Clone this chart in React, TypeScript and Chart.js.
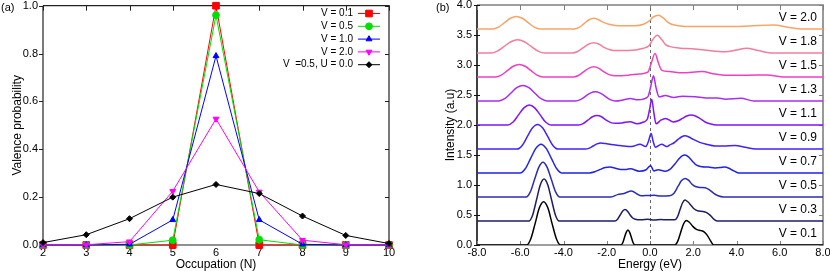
import React, { useEffect, useRef } from 'react';
import { Chart, registerables } from 'chart.js';
import { drawPoint } from 'chart.js/helpers';

Chart.register(...registerables);

const FONT = "'Liberation Sans', Arial, Helvetica, sans-serif";

// ---------- Panel (a) data ----------
const OCCUPATION = [2, 3, 4, 5, 6, 7, 8, 9, 10];
const P_V01 = [0, 0, 0, 0, 1.0, 0, 0, 0, 0];
const P_V05 = [0, 0, 0, 0.02, 0.96, 0.022, 0, 0, 0];
const P_V10 = [0, 0, 0.003, 0.105, 0.79, 0.105, 0.003, 0, 0];
const P_V20 = [0, 0.001, 0.014, 0.225, 0.527, 0.222, 0.02, 0.001, 0];
const P_U00 = [0.01, 0.043, 0.11, 0.2, 0.253, 0.215, 0.121, 0.04, 0.006];
const A_LABELS = ['V = 0.1', 'V = 0.5', 'V = 1.0', 'V = 2.0', 'V  =0.5, U = 0.0'];
const A_SERIES = [P_V01, P_V05, P_V10, P_V20, P_U00];
const A_COLORS = ['#ff0000', '#00e000', '#0000ff', '#ff00ff', '#000000'];
const A_STYLES = ['rect', 'circle', 'triangle', 'triangle', 'rectRot'];
const A_RADII = [4.7, 3.4, 3.4, 3.4, 3];
const A_ROT = [0, 0, 0, 180, 0];

// ---------- Panel (b) data: [energy (eV), intensity above baseline] ----------
type Pt = [number, number];
const B_LABELS = ['V = 0.1', 'V = 0.3', 'V = 0.5', 'V = 0.7', 'V = 0.9', 'V = 1.1', 'V = 1.3', 'V = 1.5', 'V = 1.8', 'V = 2.0'];
const B_OFFSETS = [0, 0.4, 0.8, 1.2, 1.6, 2.0, 2.4, 2.8, 3.2, 3.6];
const B_COLORS = ['#000000', '#1e1e66', '#2c2cb4', '#2222ea', '#4420ff', '#7c16ff', '#a82ef0', '#f040c0', '#f47c9c', '#f8a468'];

const S_V01: Pt[] = [[-8, 0], [-5.7, 0], [-5.51, 0.105], [-5.31, 0.36], [-5.12, 0.615], [-4.92, 0.72], [-4.72, 0.615], [-4.53, 0.36], [-4.33, 0.105], [-4.14, 0],
  [-1.34, 0], [-1.26, 0.037], [-1.18, 0.125], [-1.1, 0.21], [-1.02, 0.25], [-0.94, 0.21], [-0.86, 0.125], [-0.78, 0.037], [-0.7, 0],
  [1.15, 0], [1.28, 0.06], [1.41, 0.2], [1.55, 0.35], [1.68, 0.41], [1.82, 0.38], [1.98, 0.31], [2.15, 0.26], [2.35, 0.24], [2.5, 0.22], [2.65, 0.16], [2.8, 0.07], [2.95, 0], [8, 0]];
const S_V03: Pt[] = [[-8, 0], [-5.6, 0], [-5.425, 0.102], [-5.25, 0.35], [-5.075, 0.6], [-4.9, 0.7], [-4.725, 0.6], [-4.55, 0.35], [-4.375, 0.102], [-4.2, 0],
  [-1.62, 0], [-1.5, 0.03], [-1.38, 0.1], [-1.26, 0.165], [-1.15, 0.19], [-1.03, 0.16], [-0.92, 0.1], [-0.8, 0.05], [-0.68, 0.03],
  [-0.4, 0.02], [-0.1, 0.03], [0.2, 0.015], [0.5, 0.025], [0.8, 0.02], [1.15, 0.02], [1.27, 0.07], [1.39, 0.19], [1.5, 0.3], [1.62, 0.35], [1.75, 0.32], [1.9, 0.26], [2.05, 0.2], [2.2, 0.17], [2.45, 0.16], [2.62, 0.14], [2.8, 0.09], [2.95, 0.03], [3.1, 0], [8, 0]];
const S_V05: Pt[] = [[-8, 0], [-5.73, 0], [-5.535, 0.085], [-5.34, 0.29], [-5.145, 0.495], [-4.95, 0.58], [-4.755, 0.495], [-4.56, 0.29], [-4.365, 0.085], [-4.17, 0],
  [-1.8, 0], [-1.5, 0.04], [-1.2, 0.06], [-0.85, 0.1], [-0.6, 0.05], [-0.4, 0.02], [-0.1, 0.025], [0.2, 0.03], [0.5, 0.015], [0.9, 0.02],
  [1.1, 0.06], [1.3, 0.18], [1.45, 0.27], [1.62, 0.31], [1.78, 0.28], [1.95, 0.21], [2.1, 0.175], [2.3, 0.16], [2.55, 0.155], [2.75, 0.12], [2.95, 0.06], [3.15, 0.02], [3.4, 0], [8, 0]];
const S_V07: Pt[] = [[-8, 0], [-6.01, 0], [-5.77, 0.07], [-5.525, 0.24], [-5.28, 0.41], [-5.04, 0.48], [-4.8, 0.41], [-4.555, 0.24], [-4.31, 0.07], [-4.07, 0],
  [-2.8, 0], [-2.55, 0.02], [-2.3, 0.06], [-2.07, 0.09], [-1.85, 0.1], [-1.6, 0.08], [-1.35, 0.06], [-1.1, 0.06], [-0.9, 0.07], [-0.5, 0.03], [-0.2, 0.05], [0.03, 0.12], [0.18, 0.035], [0.38, 0.055], [0.7, 0.03],
  [0.95, 0.07], [1.15, 0.15], [1.35, 0.24], [1.5, 0.29], [1.62, 0.3], [1.78, 0.27], [1.95, 0.2], [2.15, 0.13], [2.4, 0.105], [2.7, 0.1], [3.0, 0.085], [3.25, 0.09], [3.45, 0.1], [3.65, 0.08], [3.85, 0.04], [4.1, 0], [8, 0]];
const S_V09: Pt[] = [[-8, 0], [-6.15, 0], [-5.91, 0.06], [-5.675, 0.205], [-5.44, 0.35], [-5.2, 0.41], [-4.96, 0.35], [-4.725, 0.205], [-4.49, 0.06], [-4.25, 0],
  [-3.0, 0], [-2.8, 0.015], [-2.63, 0.05], [-2.45, 0.085], [-2.27, 0.1], [-2.05, 0.09], [-1.8, 0.075], [-1.4, 0.06], [-0.85, 0.04], [-0.46, 0.08], [-0.2, 0.04], [-0.07, 0.13], [0.05, 0.26], [0.15, 0.12], [0.25, 0.03], [0.54, 0.08], [0.77, 0.04], [0.92, 0.07],
  [1.1, 0.1], [1.3, 0.16], [1.45, 0.2], [1.62, 0.22], [1.8, 0.2], [2.0, 0.16], [2.3, 0.11], [2.6, 0.08], [3.0, 0.05], [3.4, 0.05], [3.93, 0.06], [4.4, 0.03], [4.9, 0], [8, 0]];
const S_V11: Pt[] = [[-8, 0], [-6.58, 0], [-6.33, 0.049], [-6.08, 0.168], [-5.83, 0.286], [-5.58, 0.335], [-5.33, 0.286], [-5.08, 0.168], [-4.83, 0.049], [-4.58, 0],
  [-3.3, 0], [-3.09, 0.023], [-2.875, 0.08], [-2.66, 0.137], [-2.45, 0.16], [-2.24, 0.137], [-2.025, 0.08], [-1.81, 0.04], [-1.6, 0.03], [-1.3, 0.035], [-0.92, 0.055], [-0.6, 0.02], [-0.3, 0.05], [-0.12, 0.1], [-0.02, 0.26], [0.08, 0.43], [0.18, 0.2], [0.28, 0.02], [0.5, 0.08], [0.72, 0.11],
  [1.08, 0.05], [1.3, 0.07], [1.5, 0.11], [1.7, 0.15], [1.9, 0.165], [2.1, 0.15], [2.3, 0.11], [2.55, 0.05], [2.77, 0.02], [3.1, 0], [8, 0]];
const S_V13: Pt[] = [[-8, 0], [-7.0, 0], [-6.72, 0.038], [-6.44, 0.13], [-6.16, 0.222], [-5.88, 0.26], [-5.6, 0.222], [-5.32, 0.13], [-5.04, 0.038], [-4.76, 0],
  [-3.45, 0], [-3.22, 0.023], [-2.99, 0.078], [-2.76, 0.132], [-2.53, 0.155], [-2.3, 0.132], [-2.07, 0.078], [-1.84, 0.023], [-1.61, 0], [-1.2, 0.02], [-0.92, 0.04], [-0.55, 0.02], [-0.1, 0.07], [0.04, 0.25], [0.16, 0.42], [0.28, 0.22], [0.42, 0.07], [0.7, 0.09],
  [1.1, 0.06], [1.5, 0.08], [2.1, 0.07], [2.6, 0.05], [3.1, 0.05], [3.5, 0.03], [4.2, 0.045], [4.8, 0], [8, 0]];
const S_V15: Pt[] = [[-8, 0], [-7.15, 0], [-6.875, 0.031], [-6.6, 0.105], [-6.325, 0.179], [-6.05, 0.21], [-5.775, 0.179], [-5.5, 0.105], [-5.225, 0.031], [-4.95, 0],
  [-3.55, 0], [-3.31, 0.025], [-3.075, 0.085], [-2.84, 0.145], [-2.6, 0.17], [-2.36, 0.145], [-2.125, 0.085], [-1.89, 0.04], [-1.6, 0.02], [-1.0, 0.03], [-0.5, 0.05], [-0.1, 0.08], [0.05, 0.22], [0.23, 0.39], [0.4, 0.22], [0.55, 0.11], [0.9, 0.09],
  [1.5, 0.07], [2.4, 0.09], [3.0, 0.05], [3.5, 0.03], [4.5, 0.03], [5.4, 0.035], [6.2, 0], [8, 0]];
const S_V18: Pt[] = [[-8, 0], [-7.37, 0], [-7.06, 0.032], [-6.745, 0.11], [-6.43, 0.188], [-6.12, 0.22], [-5.81, 0.188], [-5.495, 0.11], [-5.18, 0.032], [-4.87, 0],
  [-3.6, 0], [-3.35, 0.025], [-3.1, 0.085], [-2.85, 0.145], [-2.6, 0.17], [-2.35, 0.145], [-2.1, 0.09], [-1.85, 0.055], [-1.6, 0.04], [-1.0, 0.04], [-0.3, 0.08], [-0.05, 0.12], [0.12, 0.22], [0.34, 0.295], [0.55, 0.22], [0.72, 0.14], [0.9, 0.11],
  [1.4, 0.08], [1.93, 0.07], [2.5, 0.05], [3.47, 0.02], [4.0, 0.05], [4.47, 0.08], [5.0, 0.04], [5.7, 0], [8, 0]];
const S_V20: Pt[] = [[-8, 0], [-7.28, 0], [-7.005, 0.031], [-6.73, 0.105], [-6.455, 0.179], [-6.18, 0.21], [-5.905, 0.179], [-5.63, 0.105], [-5.355, 0.031], [-5.08, 0],
  [-3.5, 0], [-3.275, 0.026], [-3.05, 0.09], [-2.825, 0.154], [-2.6, 0.18], [-2.375, 0.154], [-2.15, 0.11], [-1.9, 0.08], [-1.6, 0.06], [-0.7, 0.055], [-0.3, 0.08], [-0.05, 0.13], [0.15, 0.2], [0.39, 0.23], [0.6, 0.19], [0.8, 0.12], [1.0, 0.08],
  [1.9, 0.04], [3.5, 0.04], [4.6, 0.05], [5.7, 0.065], [6.5, 0.02], [7.1, 0], [8, 0]];
const B_SERIES = [S_V01, S_V03, S_V05, S_V07, S_V09, S_V11, S_V13, S_V15, S_V18, S_V20];

const tickFont = { family: FONT, size: 11 };
const titleFont = { family: FONT, size: 12, lineHeight: 1 };

function frameTicks(chart: any, o: { top: number; right: number; bottom: number; leftOut: number; leftIn: number; leftColor: string; color: string; width: number }) {
  const { ctx, chartArea: a, scales } = chart;
  ctx.save();
  ctx.lineWidth = o.width;
  ctx.strokeStyle = o.color;
  ctx.beginPath();
  ctx.moveTo(a.left, a.top); ctx.lineTo(a.right, a.top); ctx.lineTo(a.right, a.bottom); ctx.lineTo(a.left, a.bottom);
  ctx.stroke();
  ctx.strokeStyle = o.leftColor;
  ctx.beginPath(); ctx.moveTo(a.left, a.top); ctx.lineTo(a.left, a.bottom); ctx.stroke();
  ctx.lineWidth = 1;
  ctx.strokeStyle = o.color;
  ctx.beginPath();
  for (const t of scales.x.ticks) {
    const px = Math.round(scales.x.getPixelForValue(t.value)) + 0.5;
    if (o.top) { ctx.moveTo(px, a.top); ctx.lineTo(px, a.top + o.top); }
    if (o.bottom) { ctx.moveTo(px, a.bottom); ctx.lineTo(px, a.bottom - o.bottom); }
  }
  for (const t of scales.y.ticks) {
    const py = Math.round(scales.y.getPixelForValue(t.value)) + 0.5;
    if (o.right) { ctx.moveTo(a.right, py); ctx.lineTo(a.right - o.right, py); }
  }
  ctx.stroke();
  ctx.strokeStyle = o.leftColor;
  ctx.beginPath();
  for (const t of scales.y.ticks) {
    const py = Math.round(scales.y.getPixelForValue(t.value)) + 0.5;
    ctx.moveTo(a.left - o.leftOut, py); ctx.lineTo(a.left + o.leftIn, py);
  }
  ctx.stroke();
  ctx.restore();
}

function buildLeft(): any {
  return {
    type: 'line',
    data: {
      datasets: A_SERIES.map((s, i) => ({
        label: A_LABELS[i],
        data: OCCUPATION.map((x, j) => ({ x, y: s[j] })),
        borderColor: A_COLORS[i],
        backgroundColor: A_COLORS[i],
        borderWidth: 1,
        pointStyle: A_STYLES[i],
        pointRadius: A_RADII[i],
        pointRotation: A_ROT[i],
        pointBorderWidth: 1,
        tension: 0,
        clip: false,
        order: 5 - i,
      })),
    },
    options: {
      responsive: false,
      animation: false,
      devicePixelRatio: 1,
      events: [],
      layout: { padding: { top: 5, right: 26, left: 0, bottom: 0 } },
      plugins: { legend: { display: false }, tooltip: { enabled: false } },
      scales: {
        x: {
          type: 'linear', min: 2, max: 10,
          ticks: { stepSize: 1, padding: 1, font: tickFont, color: '#000', maxRotation: 0, autoSkip: false },
          grid: { display: false, drawTicks: false },
          border: { display: false },
          title: { display: true, text: 'Occupation (N)', font: titleFont, color: '#000', padding: { top: 0, bottom: 0 } },
          afterFit: (s: any) => { s.height = 26; s.paddingLeft = 0; s.paddingRight = 0; },
        },
        y: {
          type: 'linear', min: 0, max: 1,
          ticks: { stepSize: 0.2, padding: 5, font: tickFont, color: '#000', callback: (v: any) => Number(v).toFixed(1) },
          grid: { display: false, drawTicks: false },
          border: { display: false },
          title: { display: true, text: 'Valence probability', font: titleFont, color: '#000', padding: { top: 12, bottom: 0 } },
          afterFit: (s: any) => { s.width = 43; s.paddingTop = 0; s.paddingBottom = 0; },
        },
      },
    },
    plugins: [{
      id: 'frameA',
      beforeDatasetsDraw(chart: any) {
        frameTicks(chart, { top: 5, right: 4, bottom: 0, leftOut: 4, leftIn: 0, leftColor: '#222', color: '#222', width: 1.2 });
      },
      afterDraw(chart: any) {
        const { ctx } = chart;
        ctx.save();
        ctx.fillStyle = '#000';
        ctx.font = `11px ${FONT}`;
        ctx.textBaseline = 'middle';
        ctx.textAlign = 'left';
        ctx.fillText('(a)', 1, 8);
        ctx.font = `10px ${FONT}`;
        A_LABELS.forEach((lab, i) => {
          const y = 13.5 + i * 12.8;
          ctx.fillStyle = '#000';
          ctx.textAlign = 'right';
          ctx.fillText(lab, 353, y);
          ctx.strokeStyle = A_COLORS[i];
          ctx.fillStyle = A_COLORS[i];
          ctx.lineWidth = 1;
          ctx.beginPath(); ctx.moveTo(358, y); ctx.lineTo(380, y); ctx.stroke();
          drawPoint(ctx, { pointStyle: A_STYLES[i], rotation: A_ROT[i], radius: A_RADII[i], borderWidth: 1 } as any, 369, y);
        });
        ctx.restore();
      },
    }],
  };
}

function buildRight(): any {
  return {
    type: 'line',
    data: {
      datasets: B_SERIES.map((s, i) => ({
        label: B_LABELS[i],
        data: s.map(([e, v]) => ({ x: e, y: B_OFFSETS[i] + v })),
        borderColor: B_COLORS[i],
        backgroundColor: B_COLORS[i],
        borderWidth: 1.5,
        pointRadius: 0,
        cubicInterpolationMode: 'monotone',
      })),
    },
    options: {
      responsive: false,
      animation: false,
      devicePixelRatio: 1,
      events: [],
      layout: { padding: { top: 5, right: 7, left: 0, bottom: 0 } },
      plugins: { legend: { display: false }, tooltip: { enabled: false } },
      scales: {
        x: {
          type: 'linear', min: -8, max: 8,
          ticks: { stepSize: 2, padding: 1, font: tickFont, color: '#000', maxRotation: 0, autoSkip: false, callback: (v: any) => Number(v).toFixed(1) },
          grid: { display: false, drawTicks: false },
          border: { display: false },
          title: { display: true, text: 'Energy (eV)', font: titleFont, color: '#000', padding: { top: 0, bottom: 0 } },
          afterFit: (s: any) => { s.height = 26; s.paddingLeft = 0; s.paddingRight = 0; },
        },
        y: {
          type: 'linear', min: 0, max: 4,
          ticks: { stepSize: 0.5, padding: 5, font: tickFont, color: '#000', callback: (v: any) => Number(v).toFixed(1) },
          grid: { display: false, drawTicks: false },
          border: { display: false },
          title: { display: true, text: 'Intensity (a.u)', font: titleFont, color: '#000', padding: { top: 30, bottom: 0 } },
          afterFit: (s: any) => { s.width = 62; s.paddingTop = 0; s.paddingBottom = 0; },
        },
      },
    },
    plugins: [{
      id: 'frameB',
      beforeDatasetsDraw(chart: any) {
        const { ctx, chartArea: a, scales } = chart;
        frameTicks(chart, { top: 5, right: 4, bottom: 4, leftOut: 3, leftIn: 3, leftColor: '#111', color: '#808080', width: 1.6 });
        const x0 = Math.round(scales.x.getPixelForValue(0)) + 0.5;
        ctx.save();
        ctx.strokeStyle = '#666';
        ctx.lineWidth = 1;
        ctx.setLineDash([3, 3]);
        ctx.beginPath(); ctx.moveTo(x0, a.bottom); ctx.lineTo(x0, a.top); ctx.stroke();
        ctx.restore();
      },
      afterDraw(chart: any) {
        const { ctx, chartArea: a, scales } = chart;
        ctx.save();
        ctx.fillStyle = '#000';
        ctx.textBaseline = 'middle';
        ctx.font = `11px ${FONT}`;
        ctx.textAlign = 'left';
        ctx.fillText('(b)', 21, 8);
        ctx.font = `12px ${FONT}`;
        ctx.textAlign = 'right';
        B_LABELS.forEach((lab, i) => {
          ctx.fillText(lab, a.right - 6, scales.y.getPixelForValue(B_OFFSETS[i] + 0.19));
        });
        ctx.restore();
      },
    }],
  };
}

export default function App() {
  const leftRef = useRef<HTMLCanvasElement>(null);
  const rightRef = useRef<HTMLCanvasElement>(null);
  useEffect(() => {
    const c1 = new Chart(leftRef.current as HTMLCanvasElement, buildLeft());
    const c2 = new Chart(rightRef.current as HTMLCanvasElement, buildRight());
    return () => { c1.destroy(); c2.destroy(); };
  }, []);
  return (
    <div style={{ position: 'absolute', left: 0, top: 0, width: 830, height: 271, background: '#fff' }}>
      <canvas ref={leftRef} width={415} height={271} style={{ position: 'absolute', left: 0, top: 0, width: 415, height: 271 }} />
      <canvas ref={rightRef} width={415} height={271} style={{ position: 'absolute', left: 415, top: 0, width: 415, height: 271 }} />
    </div>
  );
}
